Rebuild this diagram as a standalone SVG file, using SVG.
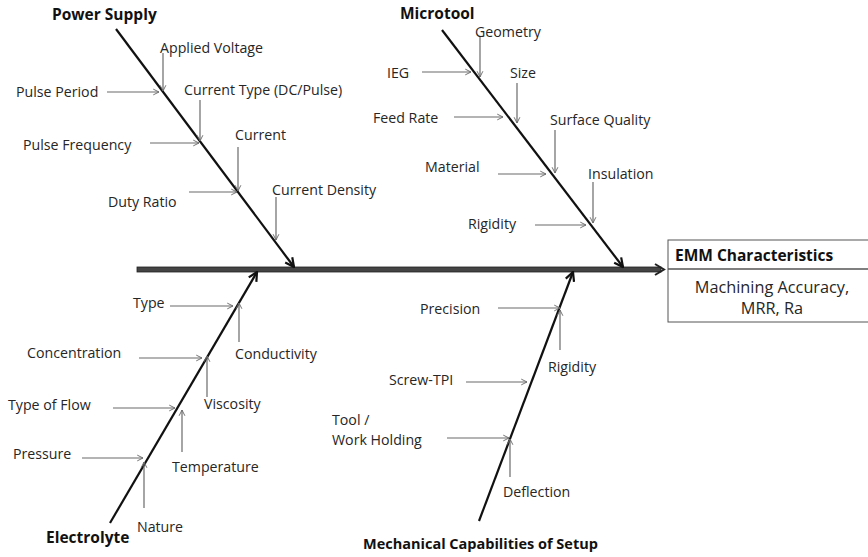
<svg xmlns="http://www.w3.org/2000/svg" width="868" height="557" viewBox="0 0 868 557">
  <style>
    .lbl { font-family: "Open Sans", "Liberation Sans", sans-serif; font-size: 14.2px; fill: #262626; }
    .hd { font-family: "Open Sans", "Liberation Sans", sans-serif; font-size: 15.5px; font-weight: bold; fill: #111; }
    .box { font-family: "Open Sans", "Liberation Sans", sans-serif; font-size: 16.3px; fill: #262626; }
    .bone { stroke: #111; stroke-width: 2.2; fill: none; marker-end: url(#boneHead); }
    .sub { stroke: #6a6a6a; stroke-width: 1.2; fill: none; marker-end: url(#subHead); }
  </style>
  <defs>
    <marker id="boneHead" viewBox="0 0 10 10" refX="9" refY="5" markerWidth="5" markerHeight="5" orient="auto" markerUnits="strokeWidth">
      <path d="M1,1 L9,5 L1,9" fill="none" stroke="#111" stroke-width="2"/>
    </marker>
    <marker id="subHead" viewBox="0 0 10 10" refX="9" refY="5" markerWidth="6" markerHeight="6" orient="auto" markerUnits="strokeWidth">
      <path d="M1,1 L9,5 L1,9" fill="none" stroke="#6a6a6a" stroke-width="1.3"/>
    </marker>
  </defs>
  <rect width="868" height="557" fill="#fff"/>

  <!-- spine and main bones -->
  <g id="connectors">
    <rect x="137" y="267" width="524" height="5" fill="#444" stroke="#222" stroke-width="0.8"/>
    <path d="M655,264 L664,269.5 L655,275" fill="none" stroke="#222" stroke-width="2"/>

    <line class="bone" x1="116" y1="29" x2="294" y2="267"/>
    <line class="bone" x1="442" y1="30" x2="623" y2="267"/>
    <line class="bone" x1="110" y1="523" x2="257" y2="272"/>
    <line class="bone" x1="479" y1="521" x2="573" y2="272"/>

    <!-- power supply causes -->
    <line class="sub" x1="163" y1="53" x2="163" y2="91"/>
    <line class="sub" x1="107" y1="92" x2="159" y2="92"/>
    <line class="sub" x1="200" y1="100" x2="200" y2="141"/>
    <line class="sub" x1="150" y1="143" x2="199" y2="143"/>
    <line class="sub" x1="238" y1="147" x2="238" y2="191"/>
    <line class="sub" x1="189" y1="192" x2="237" y2="192"/>
    <line class="sub" x1="276" y1="197" x2="276" y2="240"/>

    <!-- microtool causes -->
    <line class="sub" x1="480" y1="36" x2="480" y2="77"/>
    <line class="sub" x1="422" y1="72" x2="471" y2="72"/>
    <line class="sub" x1="517" y1="83" x2="517" y2="123"/>
    <line class="sub" x1="454" y1="117" x2="503" y2="117"/>
    <line class="sub" x1="555" y1="130" x2="555" y2="173"/>
    <line class="sub" x1="498" y1="174" x2="546" y2="174"/>
    <line class="sub" x1="593" y1="182" x2="593" y2="223"/>
    <line class="sub" x1="535" y1="225" x2="586" y2="225"/>

    <!-- electrolyte causes -->
    <line class="sub" x1="170" y1="306" x2="233" y2="306"/>
    <line class="sub" x1="239" y1="342" x2="239" y2="303"/>
    <line class="sub" x1="139" y1="358" x2="202" y2="358"/>
    <line class="sub" x1="207" y1="397" x2="207" y2="356"/>
    <line class="sub" x1="113" y1="408" x2="175" y2="408"/>
    <line class="sub" x1="182" y1="452" x2="182" y2="410"/>
    <line class="sub" x1="82" y1="458" x2="143" y2="458"/>
    <line class="sub" x1="144" y1="508" x2="144" y2="462"/>

    <!-- mechanical causes -->
    <line class="sub" x1="498" y1="308" x2="560" y2="308"/>
    <line class="sub" x1="560" y1="350" x2="560" y2="310"/>
    <line class="sub" x1="466" y1="382" x2="527" y2="382"/>
    <line class="sub" x1="447" y1="438" x2="509" y2="438"/>
    <line class="sub" x1="510" y1="477" x2="510" y2="439"/>
  </g>

  <g id="power-supply">
    <text class="hd" x="52" y="20">Power Supply</text>
    <text class="lbl" x="160" y="53">Applied Voltage</text>
    <text class="lbl" x="16" y="97">Pulse Period</text>
    <text class="lbl" x="184" y="95">Current Type (DC/Pulse)</text>
    <text class="lbl" x="23" y="150">Pulse Frequency</text>
    <text class="lbl" x="235" y="140">Current</text>
    <text class="lbl" x="108" y="207">Duty Ratio</text>
    <text class="lbl" x="272" y="195">Current Density</text>
  </g>

  <g id="microtool">
    <text class="hd" x="400" y="19">Microtool</text>
    <text class="lbl" x="475" y="37">Geometry</text>
    <text class="lbl" x="387" y="78">IEG</text>
    <text class="lbl" x="510" y="78">Size</text>
    <text class="lbl" x="373" y="123">Feed Rate</text>
    <text class="lbl" x="550" y="125">Surface Quality</text>
    <text class="lbl" x="425" y="172">Material</text>
    <text class="lbl" x="588" y="179">Insulation</text>
    <text class="lbl" x="468" y="229">Rigidity</text>
  </g>

  <g id="electrolyte">
    <text class="hd" x="46" y="543">Electrolyte</text>
    <text class="lbl" x="133" y="308">Type</text>
    <text class="lbl" x="235" y="359">Conductivity</text>
    <text class="lbl" x="27" y="358">Concentration</text>
    <text class="lbl" x="204" y="409">Viscosity</text>
    <text class="lbl" x="8" y="410">Type of Flow</text>
    <text class="lbl" x="172" y="472">Temperature</text>
    <text class="lbl" x="13" y="459">Pressure</text>
    <text class="lbl" x="137" y="532">Nature</text>
  </g>

  <g id="mechanical">
    <text class="hd" x="363" y="549" style="font-size:14.5px">Mechanical Capabilities of Setup</text>
    <text class="lbl" x="420" y="314">Precision</text>
    <text class="lbl" x="548" y="372">Rigidity</text>
    <text class="lbl" x="389" y="385">Screw-TPI</text>
    <text class="lbl" x="332" y="425">Tool /</text>
    <text class="lbl" x="332" y="445">Work Holding</text>
    <text class="lbl" x="503" y="497">Deflection</text>
  </g>

  <g id="emm-characteristics">
    <rect x="668" y="240" width="210" height="82" fill="#fff" stroke="#555" stroke-width="1"/>
    <line x1="668" y1="269" x2="868" y2="269" stroke="#555" stroke-width="1.5"/>
    <text class="hd" x="675" y="261">EMM Characteristics</text>
    <text class="box" x="772" y="293" text-anchor="middle">Machining Accuracy,</text>
    <text class="box" x="772" y="314" text-anchor="middle">MRR, Ra</text>
  </g>
</svg>
